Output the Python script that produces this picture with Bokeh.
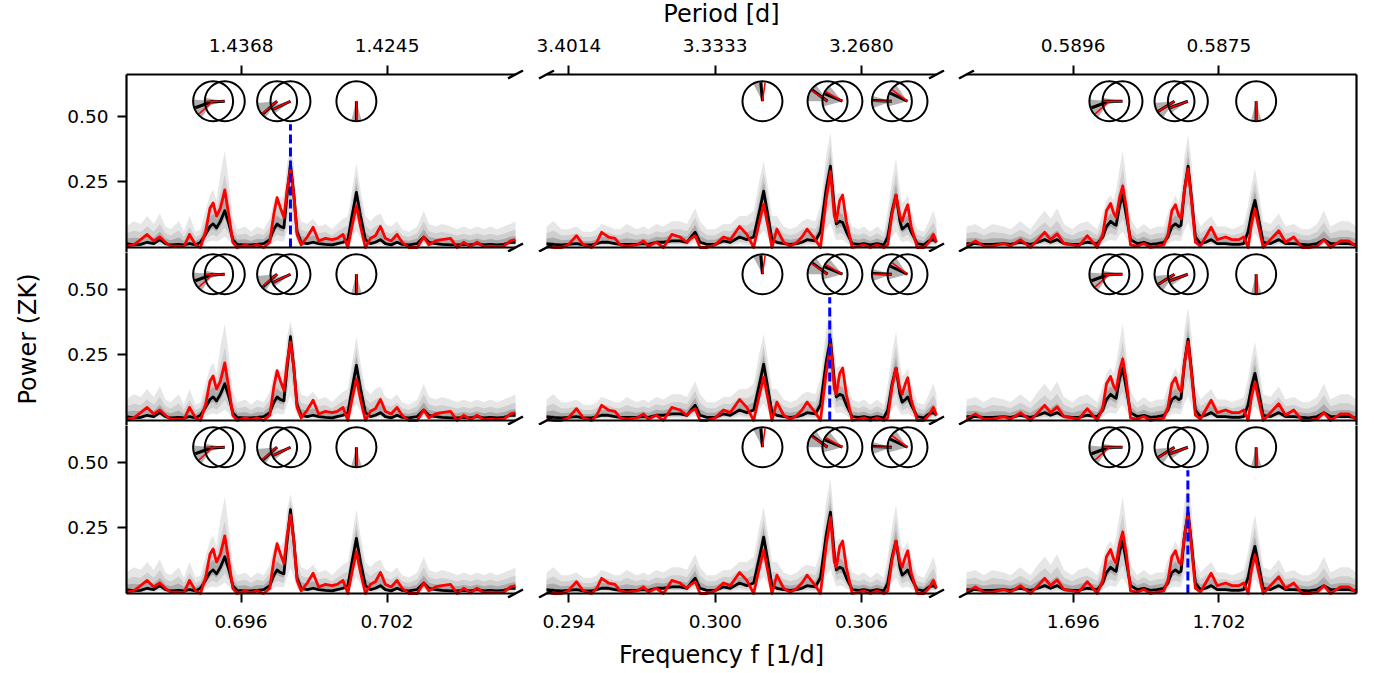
import numpy as np
from bokeh.plotting import figure
from bokeh.models import Range1d, LinearAxis, FixedTicker, Label, ColumnDataSource
from bokeh.layouts import row, column
from bokeh.embed import file_html
from bokeh.resources import INLINE

# ---------------- data ----------------
F1 = [0.69129, 0.69159, 0.69187, 0.69214, 0.69241, 0.69266, 0.69289, 0.69310, 0.69344, 0.69365,
      0.69388, 0.69413, 0.69433, 0.69454, 0.69472, 0.69485, 0.69499, 0.69515, 0.69533, 0.69550,
      0.69566, 0.69584, 0.69618, 0.69641, 0.69666, 0.69693, 0.69718, 0.69735, 0.69748, 0.69762,
      0.69776, 0.69789, 0.69803, 0.69817, 0.69830, 0.69847, 0.69872, 0.69896, 0.69919, 0.69947,
      0.69974, 0.69995, 0.70019, 0.70039, 0.70056, 0.70074, 0.70091, 0.70111, 0.70132, 0.70152,
      0.70173, 0.70193, 0.70217, 0.70241, 0.70262, 0.70289, 0.70324, 0.70351, 0.70372, 0.70399,
      0.70426, 0.70461, 0.70488, 0.70515, 0.70543, 0.70570, 0.70598, 0.70625, 0.70652, 0.70680,
      0.70707, 0.70728]
MED1 = [.015, .010, .012, .020, .015, .030, .015, .010, .012, .010,
        .015, .010, .020, .050, .080, .090, .075, .100, .140, .090,
        .030, .012, .010, .010, .012, .015, .030, .070, .090, .080,
        .075, .200, .320, .200, .060, .020, .015, .020, .015, .012,
        .010, .015, .020, .030, .120, .210, .120, .030, .015, .020,
        .030, .015, .010, .020, .012, .010, .015, .040, .020, .015,
        .012, .010, .010, .012, .010, .015, .010, .012, .010, .012,
        .020, .020]
RED1 = [.005, .010, .030, .050, .025, .040, .020, .005, .005, .003,
        .050, .010, .000, .060, .150, .170, .120, .150, .220, .120,
        .020, .000, .010, .003, .010, .000, .020, .130, .190, .150,
        .115, .220, .300, .200, .050, .010, .040, .077, .025, .035,
        .030, .035, .050, .000, .080, .160, .080, .000, .035, .045,
        .080, .035, .025, .050, .020, .000, .000, .040, .010, .025,
        .030, .035, .000, .020, .003, .020, .003, .005, .003, .005,
        .025, .030]
HI1 = [.08, .10, .09, .12, .09, .13, .08, .07, .10, .06,
       .12, .06, .07, .14, .20, .22, .18, .28, .37, .25,
       .11, .07, .08, .06, .08, .07, .11, .18, .20, .18,
       .20, .32, .38, .32, .16, .10, .09, .11, .08, .09,
       .07, .09, .11, .12, .22, .32, .22, .12, .10, .12,
       .13, .09, .08, .10, .07, .06, .08, .14, .09, .08,
       .09, .08, .07, .08, .07, .08, .07, .08, .07, .08,
       .09, .10]

F2 = [0.29308, 0.29336, 0.29370, 0.29397, 0.29431, 0.29459, 0.29493, 0.29514, 0.29534, 0.29562,
      0.29589, 0.29610, 0.29637, 0.29678, 0.29706, 0.29726, 0.29758, 0.29788, 0.29822, 0.29856,
      0.29884, 0.29901, 0.29918, 0.29938, 0.29966, 0.30000, 0.30034, 0.30062, 0.30100, 0.30130,
      0.30158, 0.30182, 0.30199, 0.30215, 0.30233, 0.30253, 0.30281, 0.30308, 0.30336, 0.30356,
      0.30377, 0.30411, 0.30432, 0.30455, 0.30473, 0.30489, 0.30497, 0.30511, 0.30523, 0.30538,
      0.30562, 0.30589, 0.30610, 0.30637, 0.30664, 0.30692, 0.30708, 0.30726, 0.30742, 0.30758,
      0.30767, 0.30780, 0.30790, 0.30804, 0.30829, 0.30856, 0.30877, 0.30895, 0.30908]
MED2 = [.015, .012, .010, .012, .015, .010, .010, .015, .020, .020,
        .015, .012, .012, .012, .015, .012, .020, .020, .025, .025,
        .020, .040, .058, .020, .012, .012, .025, .020, .040, .030,
        .040, .140, .215, .130, .030, .020, .015, .012, .015, .020,
        .030, .025, .060, .220, .310, .150, .090, .100, .095, .060,
        .015, .012, .015, .010, .015, .010, .040, .140, .200, .100,
        .070, .080, .090, .060, .015, .010, .025, .030, .020]
RED2 = [.005, .000, .000, .010, .045, .010, .000, .020, .058, .040,
        .035, .010, .005, .010, .025, .005, .020, .000, .050, .040,
        .020, .035, .045, .000, .000, .010, .040, .030, .080, .050,
        .000, .100, .165, .090, .000, .070, .020, .005, .020, .040,
        .070, .030, .000, .180, .290, .120, .100, .180, .200, .100,
        .000, .005, .010, .000, .010, .000, .010, .130, .200, .120,
        .100, .140, .163, .080, .000, .000, .020, .050, .020]
HI2 = [.08, .10, .07, .07, .08, .06, .06, .07, .09, .08,
       .07, .07, .09, .07, .08, .07, .09, .08, .10, .10,
       .09, .12, .15, .10, .07, .07, .09, .09, .12, .12,
       .14, .26, .33, .24, .12, .12, .08, .07, .08, .10,
       .11, .10, .16, .35, .44, .28, .20, .21, .20, .15,
       .08, .07, .08, .06, .08, .06, .14, .26, .34, .22,
       .17, .18, .20, .14, .07, .06, .10, .14, .10]

F3 = [1.69161, 1.69198, 1.69232, 1.69267, 1.69315, 1.69342, 1.69383, 1.69424, 1.69455, 1.69483,
      1.69507, 1.69534, 1.69562, 1.69596, 1.69623, 1.69658, 1.69699, 1.69722, 1.69737, 1.69754,
      1.69767, 1.69777, 1.69791, 1.69804, 1.69819, 1.69836, 1.69863, 1.69891, 1.69918, 1.69946,
      1.69973, 1.69990, 1.70006, 1.70021, 1.70035, 1.70044, 1.70058, 1.70073, 1.70088, 1.70103,
      1.70124, 1.70145, 1.70168, 1.70193, 1.70227, 1.70254, 1.70282, 1.70302, 1.70320, 1.70334,
      1.70348, 1.70361, 1.70382, 1.70412, 1.70446, 1.70474, 1.70508, 1.70542, 1.70570, 1.70604,
      1.70632, 1.70659, 1.70700, 1.70734, 1.70766]
MED3 = [.015, .015, .012, .012, .015, .012, .020, .012, .020, .030,
        .020, .030, .015, .012, .012, .020, .015, .040, .080, .100,
        .090, .085, .160, .200, .120, .030, .015, .020, .012, .015,
        .020, .040, .080, .090, .080, .085, .220, .310, .180, .040,
        .015, .020, .030, .015, .015, .012, .012, .015, .060, .130,
        .180, .120, .020, .015, .030, .015, .015, .012, .010, .015,
        .030, .015, .015, .015, .010]
RED3 = [.005, .025, .005, .005, .015, .005, .030, .000, .030, .058,
        .030, .052, .015, .010, .005, .045, .000, .050, .140, .168,
        .130, .115, .190, .235, .150, .010, .005, .015, .000, .005,
        .010, .050, .140, .163, .120, .110, .220, .300, .170, .020,
        .005, .040, .077, .030, .040, .030, .030, .040, .000, .090,
        .146, .090, .000, .030, .064, .020, .040, .000, .000, .005,
        .030, .000, .025, .025, .003]
HI3 = [.08, .09, .07, .09, .08, .07, .10, .07, .11, .14,
       .11, .15, .09, .07, .09, .10, .07, .13, .18, .20,
       .18, .22, .30, .37, .26, .11, .07, .09, .07, .08,
       .08, .13, .17, .20, .17, .22, .35, .43, .32, .13,
       .08, .10, .12, .08, .08, .07, .08, .09, .16, .24,
       .30, .23, .10, .09, .13, .08, .09, .07, .07, .09,
       .14, .08, .10, .10, .08]

FREQ = [F1, F2, F3]
MED = [MED1, MED2, MED3]
RED = [RED1, RED2, RED3]
HI = [HI1, HI2, HI3]

XRANGE = [(0.69129, 0.70728), (0.29308, 0.30908), (1.69161, 1.70766)]
XTICKS = [[0.696, 0.702], [0.294, 0.300, 0.306], [1.696, 1.702]]
XTICK_LABELS = [["0.696", "0.702"], ["0.294", "0.300", "0.306"], ["1.696", "1.702"]]
PERIOD_LABELS = [["1.4368", "1.4245"], ["3.4014", "3.3333", "3.2680"], ["0.5896", "0.5875"]]
YTICKS = [0.25, 0.5]
YTICK_LABELS = ["0.25", "0.50"]
YMAX = 0.66

# phase "clocks" (frequency, angles in degrees)
CLOCK_F = [[0.69485, 0.69533, 0.69748, 0.69803, 0.70074],
           [0.30194, 0.30461, 0.30522, 0.30725, 0.30789],
           [1.69749, 1.69803, 1.70017, 1.70072, 1.70353]]
CLOCK_BLACK = [[200, 183, 222, 205, 270], [95, 144, 157, 178, 155], [200, 180, 212, 200, 270]]
CLOCK_RED = [[222, 181, 220, 205, 272], [82, 146, 150, 180, 143], [222, 180, 212, 200, 270]]
CLOCK_W0 = [[175, 170, 185, 192, 255], [88, 125, 130, 165, 125], [175, 170, 185, 190, 255]]
CLOCK_W1 = [[235, 195, 235, 218, 285], [118, 180, 195, 200, 195], [235, 192, 235, 215, 285]]

BLUE_F = [0.69803, 0.30470, 1.70072]   # one per row: row i marks column i

# ---------------- styling / layout ----------------
FONT = "DejaVu Sans"
TICK_FS = "18.5px"
LABEL_FS = "24px"
CLOCK_Y = 0.558
BLUE_TOP = 0.47
BAND_COLORS = ["#e6e6e6", "#cfcfcf", "#ababab"]
BAND_HI = [1.0, 0.6, 0.3]
BAND_LO = [0.3, 0.55, 0.8]

# pixel geometry: data area, frame and canvas of every column / row
DX = [(126, 515), (546, 936), (966, 1356)]
CANVAS_X = [(0, 530), (530, 951), (951, 1374)]
FRAME_X = [(123, 530), (530, 951), (951, 1359)]
DY = [(74, 247), (247, 420), (420, 593)]
TOP_H = 26
BOT_H = 35
CANVAS_Y = [(TOP_H, 252), (252, 425), (425, 673 - BOT_H)]
FRAME_Y = [(69, 252), (252, 425), (425, 598)]
TOTAL_W = 1374


def style_axis(ax, tin, tout, standoff):
    ax.axis_line_color = None
    ax.major_tick_line_color = "black"
    ax.major_tick_line_width = 2
    ax.major_tick_out = tout
    ax.major_tick_in = tin
    ax.minor_tick_line_color = None
    ax.major_label_text_font = FONT
    ax.major_label_text_font_size = TICK_FS
    ax.major_label_text_color = "black"
    ax.major_label_standoff = standoff


rows = []
for r in range(3):
    figs = []
    for c in range(3):
        x0, x1 = XRANGE[c]
        sx = (x1 - x0) / (DX[c][1] - DX[c][0])
        xr = Range1d(x0 + (FRAME_X[c][0] - DX[c][0]) * sx, x0 + (FRAME_X[c][1] - DX[c][0]) * sx)
        sy = YMAX / (DY[r][1] - DY[r][0])
        yr = Range1d(0 - (FRAME_Y[r][1] - DY[r][1]) * sy, YMAX + (DY[r][0] - FRAME_Y[r][0]) * sy)
        p = figure(width=CANVAS_X[c][1] - CANVAS_X[c][0], height=CANVAS_Y[r][1] - CANVAS_Y[r][0],
                   x_range=xr, y_range=yr, x_axis_type=None, y_axis_type=None, title=None,
                   toolbar_location=None, output_backend="svg",
                   min_border_left=FRAME_X[c][0] - CANVAS_X[c][0],
                   min_border_right=CANVAS_X[c][1] - FRAME_X[c][1],
                   min_border_top=FRAME_Y[r][0] - CANVAS_Y[r][0],
                   min_border_bottom=CANVAS_Y[r][1] - FRAME_Y[r][1])
        p.outline_line_color = None
        p.background_fill_color = "white"
        p.border_fill_color = "white"

        med = np.array(MED[c])
        hi = np.array(HI[c])
        data = dict(f=FREQ[c], med=MED[c], red=RED[c])
        for k in range(3):
            data["lo%d" % k] = med * BAND_LO[k]
            data["hi%d" % k] = med + BAND_HI[k] * (hi - med)
        src = ColumnDataSource(data)
        for k in range(3):
            p.varea(x="f", y1="lo%d" % k, y2="hi%d" % k, source=src, fill_color=BAND_COLORS[k])
        p.line("f", "med", source=src, line_color="black", line_width=2.8, line_join="round")
        p.line("f", "red", source=src, line_color="red", line_width=2.8, line_join="round")

        if r == c:
            p.segment(x0=[BLUE_F[r]], y0=[0], x1=[BLUE_F[r]], y1=[BLUE_TOP],
                      line_color="blue", line_width=3, line_dash="9 4")

        n = len(CLOCK_F[c])
        csrc = ColumnDataSource(dict(x=CLOCK_F[c], y=[CLOCK_Y] * n,
                                     b=np.deg2rad(CLOCK_BLACK[c]), rd=np.deg2rad(CLOCK_RED[c]),
                                     w0=np.deg2rad(CLOCK_W0[c]), w1=np.deg2rad(CLOCK_W1[c])))
        p.wedge(x="x", y="y", radius=20, radius_units="screen", start_angle="w0", end_angle="w1",
                source=csrc, fill_color="#b0b0b0", line_color=None)
        p.ray(x="x", y="y", length=19, length_units="screen", angle="b", source=csrc,
              line_color="black", line_width=3)
        p.ray(x="x", y="y", length=19, length_units="screen", angle="rd", source=csrc,
              line_color="red", line_width=1.6)
        p.scatter(x="x", y="y", size=40, marker="circle", source=csrc,
                  fill_color=None, line_color="black", line_width=2)

        # spines (drawn in data space so that they sit exactly on the data area)
        sp_x0, sp_y0, sp_x1, sp_y1 = [x0], [0], [x1], [0]          # bottom edge of every row
        if r == 0:
            sp_x0 += [x0]; sp_y0 += [YMAX]; sp_x1 += [x1]; sp_y1 += [YMAX]
        ybot = 0 if r == 2 else yr.start
        if c == 0:
            sp_x0 += [x0]; sp_y0 += [ybot]; sp_x1 += [x0]; sp_y1 += [YMAX]
        if c == 2:
            sp_x0 += [x1]; sp_y0 += [ybot]; sp_x1 += [x1]; sp_y1 += [YMAX]
        p.segment(x0=sp_x0, y0=sp_y0, x1=sp_x1, y1=sp_y1, line_color="black", line_width=2.2)

        # broken-axis marks
        dx = 7.5 * sx
        dy = 4.0 * sy
        ends = {0: [x1], 1: [x0, x1], 2: [x0]}[c]
        levels = [0.0, YMAX] if r == 0 else [0.0]
        mx0, my0, mx1, my1 = [], [], [], []
        for xe in ends:
            for ye in levels:
                mx0.append(xe - dx); my0.append(ye - dy); mx1.append(xe + dx); my1.append(ye + dy)
        p.segment(x0=mx0, y0=my0, x1=mx1, y1=my1, line_color="black", line_width=2.5)

        # axes
        if c == 0:
            ax = LinearAxis(ticker=FixedTicker(ticks=YTICKS, minor_ticks=[]),
                            major_label_overrides=dict(zip(YTICKS, YTICK_LABELS)))
            gap = DX[c][0] - FRAME_X[c][0]
            style_axis(ax, gap, 9 - gap, 9)
            if r == 1:
                ax.axis_label = "Power (ZK)"
                ax.axis_label_text_font = FONT
                ax.axis_label_text_font_size = LABEL_FS
                ax.axis_label_text_font_style = "normal"
                ax.axis_label_text_color = "black"
                ax.axis_label_standoff = 22
            p.add_layout(ax, "left")
        if r == 0:
            ax = LinearAxis(ticker=FixedTicker(ticks=XTICKS[c], minor_ticks=[]),
                            major_label_overrides=dict(zip(XTICKS[c], PERIOD_LABELS[c])))
            gap = DY[r][0] - FRAME_Y[r][0]
            style_axis(ax, gap, 9 - gap, 14)
            p.add_layout(ax, "above")
        if r == 2:
            ax = LinearAxis(ticker=FixedTicker(ticks=XTICKS[c], minor_ticks=[]),
                            major_label_overrides=dict(zip(XTICKS[c], XTICK_LABELS[c])))
            gap = FRAME_Y[r][1] - DY[r][1]
            style_axis(ax, gap, 9 - gap, 12)
            p.add_layout(ax, "below")
        figs.append(p)
    rows.append(row(*figs))


def strip(h, text, y_from_top):
    s = figure(width=TOTAL_W, height=h, x_range=Range1d(0, TOTAL_W), y_range=Range1d(0, h),
               x_axis_type=None, y_axis_type=None, title=None, toolbar_location=None,
               output_backend="svg", min_border=0)
    s.outline_line_color = None
    s.add_layout(Label(x=721, y=h - y_from_top, text=text, text_align="center",
                       text_baseline="middle", text_font=FONT, text_font_size=LABEL_FS,
                       text_color="black"))
    return s


top = strip(TOP_H, "Period [d]", 13)
bottom = strip(BOT_H, "Frequency f [1/d]", 16)

layout = column(top, rows[0], rows[1], rows[2], bottom)
open("out.html", "w").write(file_html(layout, INLINE))
